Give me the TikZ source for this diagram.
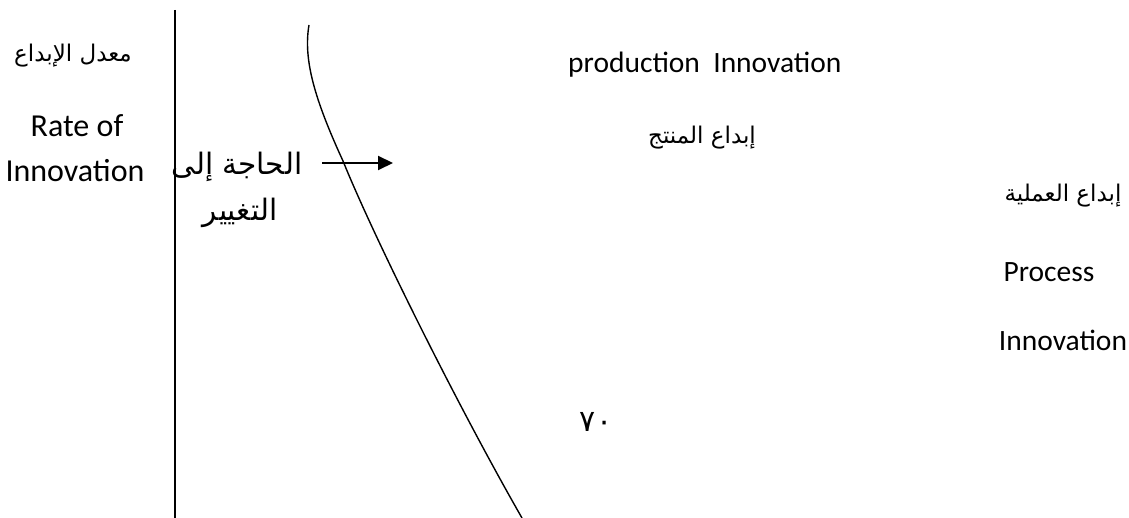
\documentclass[tikz,border=0pt]{standalone}
\usepackage{fontspec}
\setmainfont{Carlito}
\newfontfamily\arabicfont[Script=Arabic]{DejaVu Sans}
\TeXXeTstate=1
\usetikzlibrary{arrows.meta}
\definecolor{ink}{HTML}{000000}
\newcommand\arabictext[1]{\beginR#1\endR}
\tikzset{
  latin/.style={font=\fontsize{29.5}{34}\selectfont,text=ink,inner sep=0pt},
  latinbig/.style={latin,font=\fontsize{32}{38}\selectfont},
  arabic/.style={font=\arabicfont\fontsize{23}{27}\selectfont,text=ink,inner sep=0pt},
  arabicbig/.style={arabic,font=\arabicfont\fontsize{29.5}{35}\selectfont},
  axis/.style={line width=2pt,draw=ink},
  curve/.style={line width=1.4pt,draw=ink},
  arrow/.style={-{Triangle[length=15pt,width=14pt]},line width=2pt,draw=ink}
}
\begin{document}
\begin{tikzpicture}[x=1pt,y=-1pt]
  \useasboundingbox (0,0) rectangle (1129,518);
  \draw[axis] (175,10) -- (175,518);
  \draw[curve] (309,25) .. controls (303,60) and (315,100) .. (343,161)
    .. controls (375,240) and (460,410) .. (522,518);

  \node[arabic] (rateAr) at (73,56) {\arabictext{معدل الإبداع}};
  \node[latinbig,anchor=base] (rateOf) at (77,137) {Rate of};
  \node[latinbig,anchor=base] (rateInno) at (75,182) {Innovation};

  \node[arabicbig] (needA) at (237,167) {\arabictext{الحاجة إلى}};
  \node[arabicbig] (needB) at (240,213) {\arabictext{التغيير}};
  \coordinate (needTail) at (322,163);
  \coordinate (needTip) at (393,163);
  \draw[arrow] (needTail) -- (needTip);

  \node[latin,anchor=base west] (prodEn) at (568,73) {production\ \ Innovation};
  \node[arabic] (prodAr) at (702,138) {\arabictext{إبداع المنتج}};

  \node[arabic] (procAr) at (1063,196) {\arabictext{إبداع العملية}};
  \node[latin,anchor=base] (procA) at (1049,282) {Process};
  \node[latin,anchor=base] (procB) at (1063,350) {Innovation};

  \node[arabic,font=\arabicfont\fontsize{30}{34}\selectfont] (pageNo) at (596,422) {٧٠};
\end{tikzpicture}
\end{document}
